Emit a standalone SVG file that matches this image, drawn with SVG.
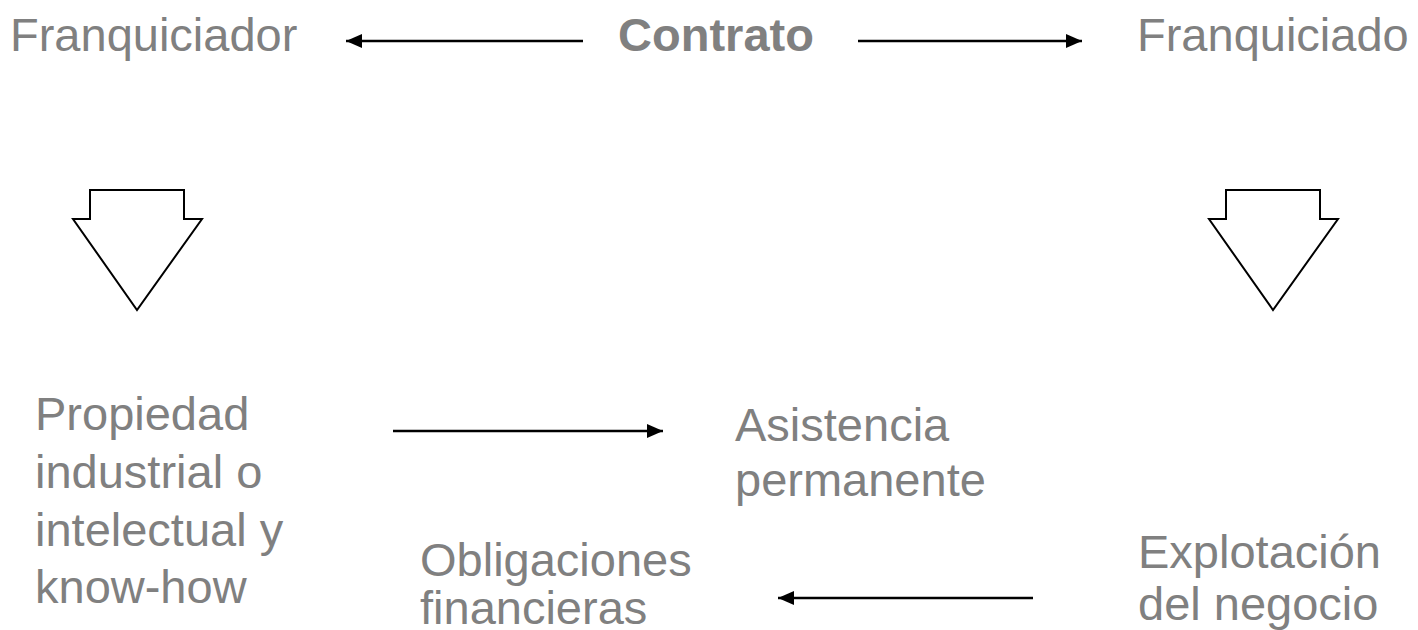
<svg xmlns="http://www.w3.org/2000/svg" width="1418" height="630" viewBox="0 0 1418 630">
<defs>
<style>
text{font-family:"Liberation Sans",Arial,sans-serif;font-size:47px;fill:#808080}
.b{font-weight:bold}
.c{stroke:#000;stroke-width:2.5;fill:none}
.blk{stroke:#000;stroke-width:2;fill:#fff}
</style>
<marker id="ah" viewBox="0 0 16 14" refX="16" refY="7" markerWidth="16" markerHeight="14" markerUnits="userSpaceOnUse" orient="auto">
<path d="M0,0 L16,7 L0,14 z" fill="#000"/>
</marker>
</defs>
<rect width="1418" height="630" fill="#fff"/>
<g id="franquiciador"><text x="10" y="51">Franquiciador</text></g>
<g id="contrato"><text class="b" x="716" y="51" text-anchor="middle">Contrato</text></g>
<g id="franquiciado"><text x="1137" y="51">Franquiciado</text></g>
<g id="flecha-izq"><path class="blk" d="M90,190 H184 V219 H202 L137,310 L73,219 H90 Z"/></g>
<g id="flecha-der"><path class="blk" d="M1226,190 H1320 V219 H1338 L1273,310 L1209,219 H1226 Z"/></g>
<g id="propiedad"><text x="35" y="430">Propiedad<tspan x="35" y="488">industrial o</tspan><tspan x="35" y="546">intelectual y</tspan><tspan x="35" y="603">know-how</tspan></text></g>
<g id="asistencia"><text x="735" y="441">Asistencia<tspan x="735" y="496">permanente</tspan></text></g>
<g id="obligaciones"><text x="420" y="576">Obligaciones<tspan x="420" y="624">financieras</tspan></text></g>
<g id="explotacion"><text x="1138" y="568">Explotación<tspan x="1138" y="620">del negocio</tspan></text></g>
<g id="conectores">
<line class="c" x1="583" y1="41" x2="346" y2="41" marker-end="url(#ah)"/>
<line class="c" x1="858" y1="41" x2="1082" y2="41" marker-end="url(#ah)"/>
<line class="c" x1="393" y1="431" x2="663" y2="431" marker-end="url(#ah)"/>
<line class="c" x1="1033" y1="598" x2="778" y2="598" marker-end="url(#ah)"/>
</g>
</svg>
